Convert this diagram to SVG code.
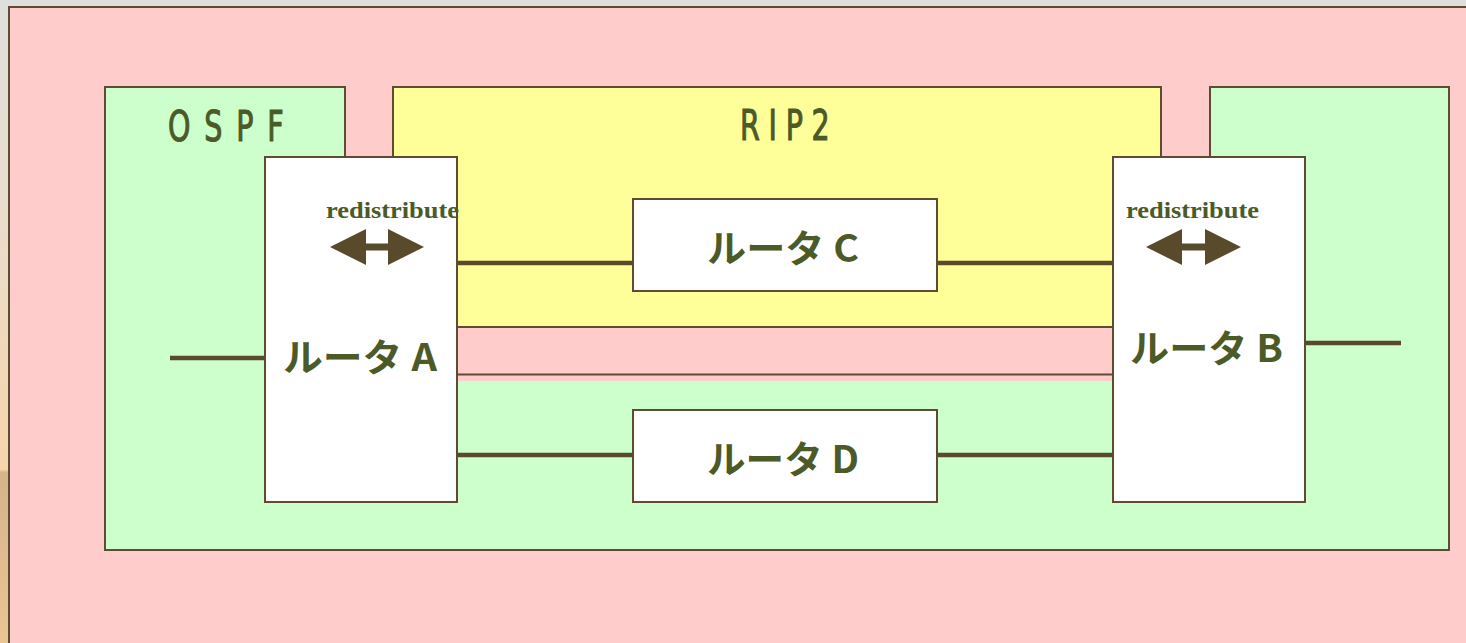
<svg xmlns="http://www.w3.org/2000/svg" width="1466" height="643" viewBox="0 0 1466 643">
  <defs>
    <linearGradient id="edge" x1="0" y1="0" x2="0" y2="1">
      <stop offset="0" stop-color="#dfdfdb"/>
      <stop offset="0.35" stop-color="#eadccb"/>
      <stop offset="0.73" stop-color="#f6d5aa"/>
      <stop offset="0.735" stop-color="#d5b48b"/>
      <stop offset="1" stop-color="#ebc494"/>
    </linearGradient>
    <marker id="head" viewBox="0 0 36 36" refX="1" refY="18" markerWidth="36" markerHeight="36" markerUnits="userSpaceOnUse" orient="auto-start-reverse">
      <path d="M0,0 L36,18 L0,36 Z" fill="#5a4a2c"/>
    </marker>
    <style>
      .area { stroke: #5f4b32; stroke-width: 2; }
      .box { fill: #ffffff; stroke: #5f4b32; stroke-width: 2; }
      .edge { stroke: #5f4b32; stroke-width: 2; fill: none; }
      .link { stroke: #5a4a2c; stroke-width: 4.5; fill: none; }
      .label { fill: #4b5a26; font-family: "Noto Sans CJK JP", "Noto Sans", sans-serif; font-weight: 700; font-size: 38px; }
      .area-label { fill: #4b5a26; stroke: #4b5a26; stroke-width: 1.2; font-family: "DejaVu Sans", "Noto Sans", sans-serif; font-weight: 400; font-size: 42px; }
      .note { fill: #4b5a26; font-family: "Liberation Serif", serif; font-weight: 700; font-size: 24px; }
      .swap { stroke: #5a4a2c; stroke-width: 7; fill: none; marker-start: url(#head); marker-end: url(#head); }
    </style>
  </defs>

  <!-- page backdrop -->
  <rect x="0" y="0" width="1466" height="643" fill="#dfdfdb"/>
  <rect x="0" y="0" width="9" height="643" fill="url(#edge)"/>
  <rect x="9" y="7" width="1470" height="650" fill="#ffcccc" stroke="#5f4b32" stroke-width="2"/>

  <!-- routing areas -->
  <g id="ospf-area">
    <rect class="area" x="105" y="87" width="1344" height="463" fill="#ccffcc"/>
    <rect x="346" y="84" width="863" height="297" fill="#ffcccc"/>
    <path class="edge" d="M345,87 V157 M1210,87 V157 M457,374.5 H1113"/>
    <text class="area-label" transform="translate(168,141) scale(0.68,1)" x="0" y="0" textLength="170" lengthAdjust="spacing">OSPF</text>
  </g>
  <g id="rip2-area">
    <rect class="area" x="393" y="87" width="768" height="240" fill="#ffff99"/>
    <text class="area-label" transform="translate(740,140) scale(0.68,1)" x="0" y="0" textLength="132" lengthAdjust="spacing">RIP2</text>
  </g>

  <!-- links -->
  <g id="connectors">
    <line class="link" x1="170" y1="358" x2="265" y2="358"/>
    <line class="link" x1="1306" y1="343" x2="1401" y2="343"/>
    <line class="link" x1="457" y1="263" x2="633" y2="263"/>
    <line class="link" x1="937" y1="263" x2="1113" y2="263"/>
    <line class="link" x1="457" y1="455" x2="633" y2="455"/>
    <line class="link" x1="937" y1="455" x2="1113" y2="455"/>
  </g>

  <!-- routers -->
  <g id="router-a">
    <rect class="box" x="265" y="157" width="192" height="345"/>
    <text class="note" x="326" y="218" textLength="133" lengthAdjust="spacingAndGlyphs">redistribute</text>
    <line class="swap" x1="365" y1="247" x2="389" y2="247"/>
    <text class="label" x="283" y="371" textLength="154" lengthAdjust="spacingAndGlyphs">ルータ A</text>
  </g>
  <g id="router-b">
    <rect class="box" x="1113" y="157" width="192" height="345"/>
    <text class="note" x="1126" y="218" textLength="133" lengthAdjust="spacingAndGlyphs">redistribute</text>
    <line class="swap" x1="1181" y1="247" x2="1206" y2="247"/>
    <text class="label" x="1130" y="362" textLength="153" lengthAdjust="spacingAndGlyphs">ルータ B</text>
  </g>
  <g id="router-c">
    <rect class="box" x="633" y="199" width="304" height="92"/>
    <text class="label" x="707" y="262" textLength="152" lengthAdjust="spacingAndGlyphs">ルータ C</text>
  </g>
  <g id="router-d">
    <rect class="box" x="633" y="410" width="304" height="92"/>
    <text class="label" x="707" y="473" textLength="152" lengthAdjust="spacingAndGlyphs">ルータ D</text>
  </g>
</svg>
